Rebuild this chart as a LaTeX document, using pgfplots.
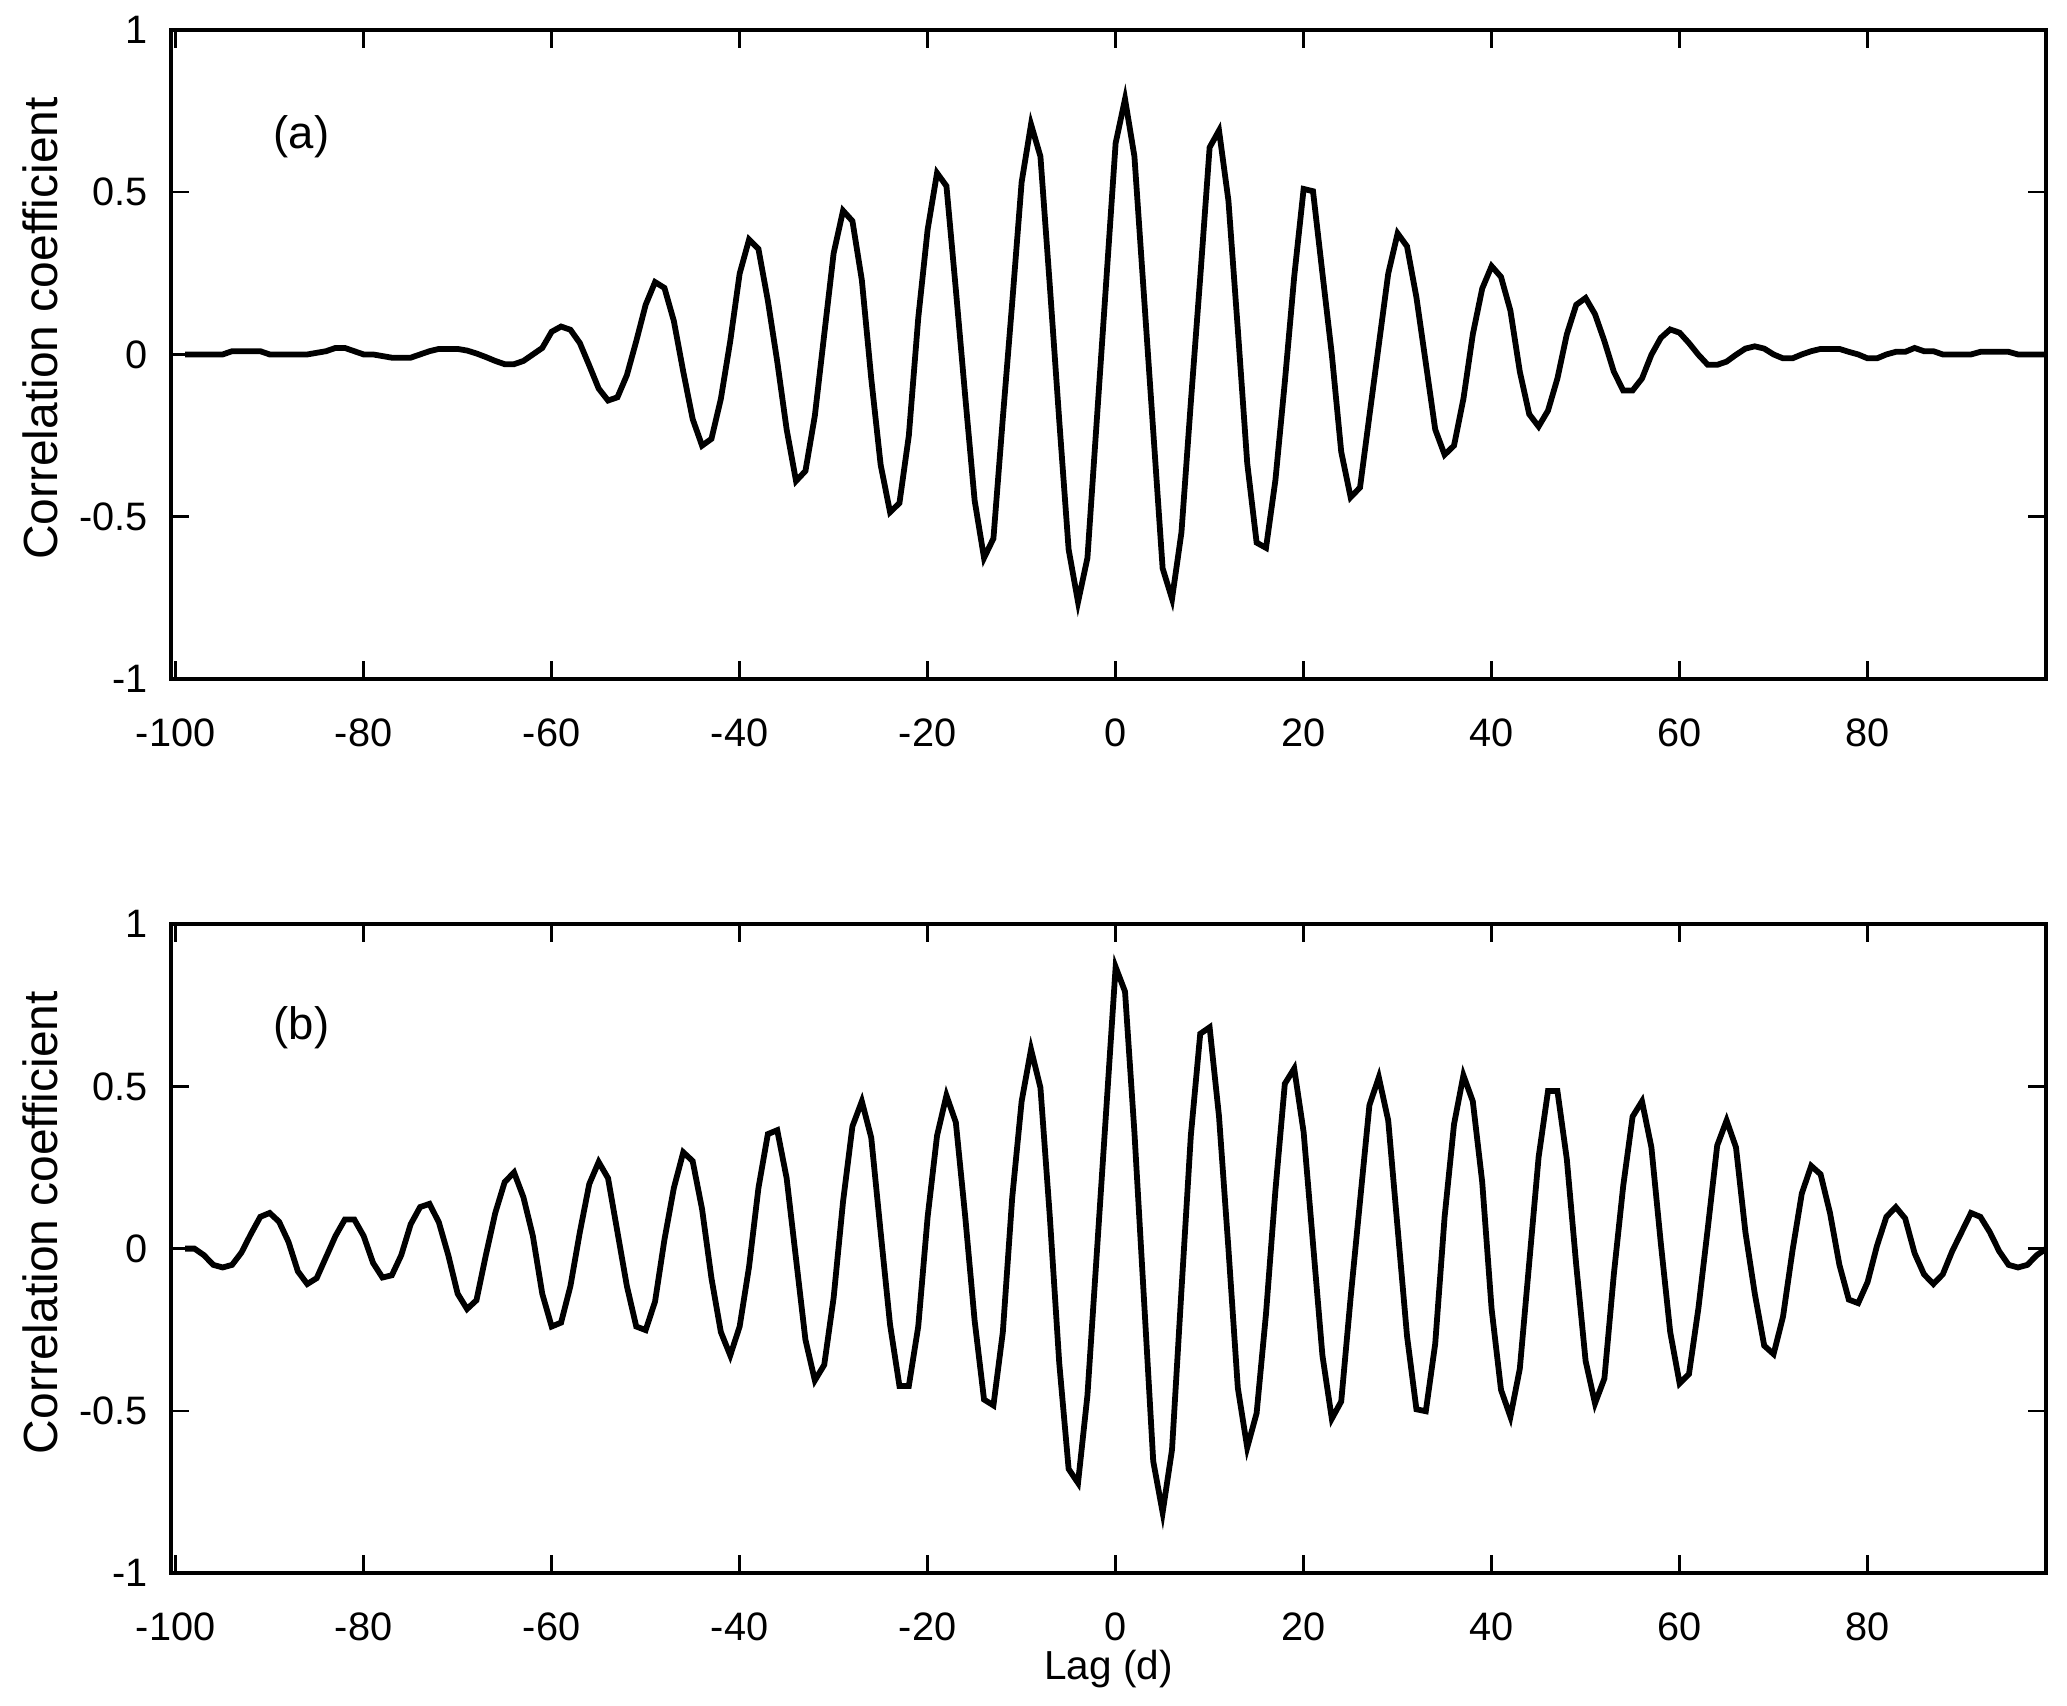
\documentclass[border=0pt]{standalone}
\usepackage{fontspec}
\setmainfont{Liberation Sans}
\usepackage{pgfplots}
\pgfplotsset{compat=1.18}
\pgfplotsset{
  myax/.style={
    scale only axis, width=453.6pt, height=157pt,
    xmin=-100.5, xmax=99, ymin=-1, ymax=1,
    xtick={-100,-80,-60,-40,-20,0,20,40,60,80},
    xticklabels={-100,-80,-60,-40,-20,0,20,40,60,80},
    ytick={-1,-0.5,0,0.5,1},
    yticklabels={-1,-0.5,0,0.5,1},
    tick align=inside, major tick length=4.3pt,
    tick style={line width=0.6pt, black},
    axis line style={line width=0.85pt},
    ticklabel style={font=\fontsize{9.6}{11}\selectfont},
    yticklabel style={inner sep=0pt, xshift=-5.4pt},
    xticklabel style={inner sep=0pt, yshift=-9.5pt},
    ylabel={Correlation coefficient},
    ylabel style={at={(axis description cs:-0.0699,0.54)}, anchor=center, font=\fontsize{11.6}{13}\selectfont},
    clip=false,
  }
}
\begin{document}
\begin{tikzpicture}[x=1pt,y=1pt]
\useasboundingbox (0,0) rectangle (500,412.44);
\begin{axis}[myax, at={(41.36pt,248.2pt)}, anchor=south west]
\addplot[black, line width=1.4pt] table {
x y
-99 0
-98 0
-97 0
-96 0
-95 0
-94 0.01
-93 0.01
-92 0.01
-91 0.01
-90 0
-89 0
-88 0
-87 0
-86 0
-85 0.005
-84 0.01
-83 0.02
-82 0.02
-81 0.01
-80 0
-79 0
-78 -0.005
-77 -0.01
-76 -0.01
-75 -0.01
-74 0
-73 0.01
-72 0.017
-71 0.017
-70 0.017
-69 0.012
-68 0.003
-67 -0.008
-66 -0.02
-65 -0.03
-64 -0.03
-63 -0.02
-62 0.0
-61 0.02
-60 0.07
-59 0.086
-58 0.076
-57 0.035
-56 -0.034
-55 -0.105
-54 -0.142
-53 -0.132
-52 -0.064
-51 0.041
-50 0.153
-49 0.223
-48 0.205
-47 0.103
-46 -0.053
-45 -0.199
-44 -0.281
-43 -0.260
-42 -0.137
-41 0.041
-40 0.249
-39 0.354
-38 0.325
-37 0.166
-36 -0.022
-35 -0.231
-34 -0.390
-33 -0.359
-32 -0.189
-31 0.062
-30 0.312
-29 0.443
-28 0.411
-27 0.229
-26 -0.074
-25 -0.340
-24 -0.486
-23 -0.458
-22 -0.25
-21 0.112
-20 0.385
-19 0.559
-18 0.519
-17 0.20
-16 -0.13
-15 -0.45
-14 -0.627
-13 -0.567
-12 -0.196
-11 0.161
-10 0.531
-9 0.709
-8 0.610
-7 0.211
-6 -0.203
-5 -0.601
-4 -0.763
-3 -0.627
-2 -0.201
-1 0.225
0 0.651
1 0.787
2 0.610
3 0.187
4 -0.236
5 -0.659
6 -0.753
7 -0.549
8 -0.148
9 0.237
10 0.638
11 0.690
12 0.474
13 0.077
14 -0.335
15 -0.580
16 -0.596
17 -0.387
18 -0.085
19 0.24
20 0.510
21 0.503
22 0.25
23 0.0
24 -0.30
25 -0.44
26 -0.41
27 -0.189
28 0.030
29 0.249
30 0.373
31 0.333
32 0.176
33 -0.027
34 -0.231
35 -0.309
36 -0.281
37 -0.137
38 0.062
39 0.203
40 0.272
41 0.239
42 0.135
43 -0.053
44 -0.184
45 -0.222
46 -0.173
47 -0.074
48 0.062
49 0.153
50 0.174
51 0.124
52 0.041
53 -0.053
54 -0.111
55 -0.111
56 -0.074
57 -0.001
58 0.051
59 0.077
60 0.067
61 0.035
62 -0.001
63 -0.032
64 -0.032
65 -0.022
66 -0.001
67 0.018
68 0.025
69 0.018
70 0.0
71 -0.012
72 -0.012
73 0
74 0.01
75 0.017
76 0.017
77 0.017
78 0.008
79 0
80 -0.012
81 -0.012
82 0
83 0.008
84 0.008
85 0.02
86 0.01
87 0.01
88 0
89 0
90 0
91 0
92 0.008
93 0.008
94 0.008
95 0.008
96 0
97 0
98 0
99 0
};
\node[font=\fontsize{11}{13}\selectfont] at (axis cs:-86.6,0.67) {(a)};
\end{axis}
\begin{axis}[myax, at={(41.36pt,31.9pt)}, anchor=south west,
  xlabel={Lag (d)},
  xlabel style={at={(axis description cs:0.5,-0.147)}, anchor=center, font=\fontsize{9.8}{11}\selectfont}]
\addplot[black, line width=1.4pt] table {
x y
-99 0
-98 0
-97 -0.02
-96 -0.05
-95 -0.058
-94 -0.05
-93 -0.012
-92 0.045
-91 0.098
-90 0.11
-89 0.083
-88 0.021
-87 -0.07
-86 -0.109
-85 -0.091
-84 -0.026
-83 0.039
-82 0.09
-81 0.09
-80 0.039
-79 -0.044
-78 -0.089
-77 -0.082
-76 -0.02
-75 0.075
-74 0.128
-73 0.138
-72 0.081
-71 -0.02
-70 -0.139
-69 -0.186
-68 -0.159
-67 -0.02
-66 0.11
-65 0.205
-64 0.235
-63 0.158
-62 0.039
-61 -0.139
-60 -0.24
-59 -0.228
-58 -0.115
-57 0.051
-56 0.199
-55 0.267
-54 0.217
-53 0.051
-52 -0.115
-51 -0.24
-50 -0.251
-49 -0.163
-48 0.028
-47 0.187
-46 0.297
-45 0.27
-44 0.122
-43 -0.091
-42 -0.257
-41 -0.329
-40 -0.24
-39 -0.056
-38 0.187
-37 0.353
-36 0.365
-35 0.217
-34 -0.032
-33 -0.281
-32 -0.406
-31 -0.358
-30 -0.151
-29 0.145
-28 0.377
-27 0.454
-26 0.342
-25 0.051
-24 -0.234
-23 -0.423
-22 -0.423
-21 -0.24
-20 0.098
-19 0.348
-18 0.472
-17 0.389
-16 0.098
-15 -0.222
-14 -0.465
-13 -0.483
-12 -0.257
-11 0.158
-10 0.454
-9 0.614
-8 0.496
-7 0.098
-6 -0.352
-5 -0.679
-4 -0.722
-3 -0.452
-2 -0.013
-1 0.427
0 0.868
1 0.792
2 0.358
3 -0.148
4 -0.655
5 -0.813
6 -0.619
7 -0.13
8 0.348
9 0.662
10 0.682
11 0.407
12 0.0
13 -0.429
14 -0.613
15 -0.507
16 -0.2
17 0.18
18 0.508
19 0.555
20 0.359
21 0.015
22 -0.329
23 -0.524
24 -0.471
25 -0.151
26 0.146
27 0.442
28 0.528
29 0.395
30 0.063
31 -0.269
32 -0.495
33 -0.501
34 -0.293
35 0.098
36 0.383
37 0.534
38 0.454
39 0.205
40 -0.186
41 -0.435
42 -0.518
43 -0.37
44 -0.044
45 0.282
46 0.486
47 0.486
48 0.276
49 -0.05
50 -0.346
51 -0.477
52 -0.40
53 -0.08
54 0.193
55 0.407
56 0.454
57 0.312
58 0.017
59 -0.257
60 -0.415
61 -0.386
62 -0.184
63 0.063
64 0.318
65 0.395
66 0.312
67 0.051
68 -0.139
69 -0.299
70 -0.325
71 -0.21
72 -0.008
73 0.17
74 0.255
75 0.229
76 0.11
77 -0.05
78 -0.157
79 -0.168
80 -0.103
81 0.009
82 0.098
83 0.128
84 0.093
85 -0.014
86 -0.079
87 -0.109
88 -0.079
89 -0.008
90 0.051
91 0.11
92 0.098
93 0.051
94 -0.008
95 -0.05
96 -0.058
97 -0.05
98 -0.02
99 0.0
};
\node[font=\fontsize{11}{13}\selectfont] at (axis cs:-86.6,0.68) {(b)};
\end{axis}
\end{tikzpicture}
\end{document}
